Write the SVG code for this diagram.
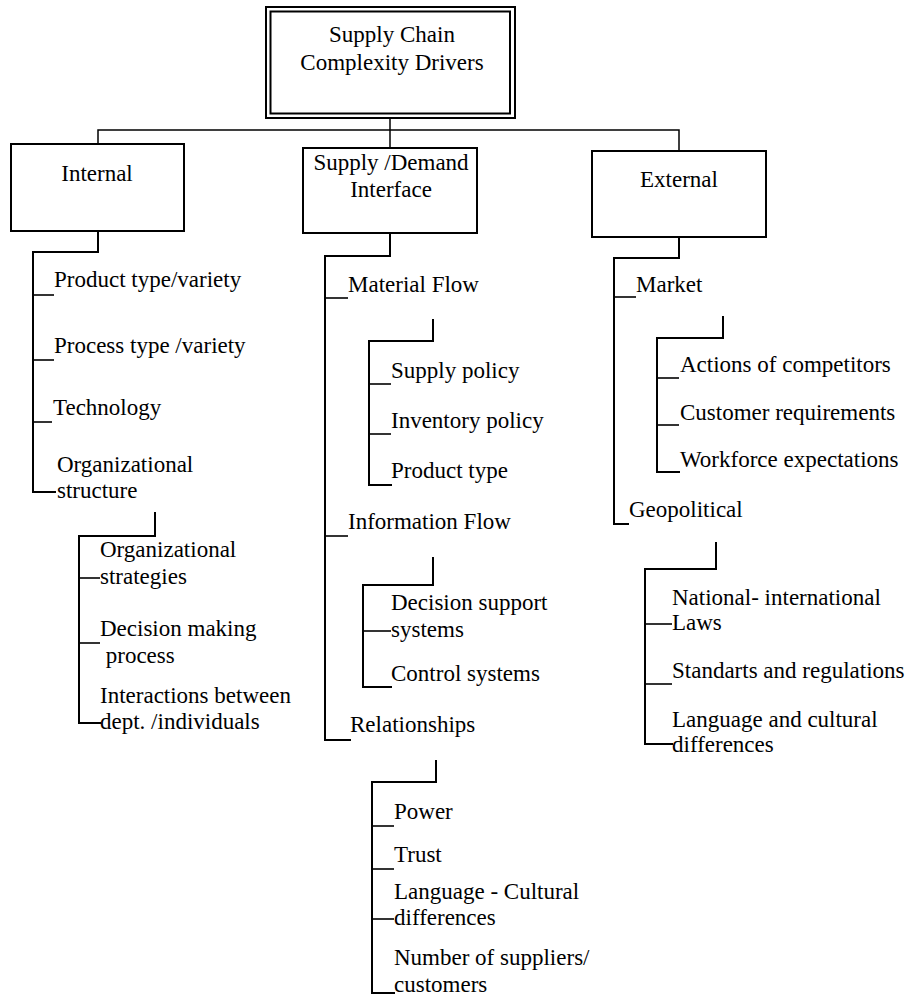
<svg xmlns="http://www.w3.org/2000/svg" width="909" height="996" viewBox="0 0 909 996">
  <style>
    .box { fill: #fff; stroke: #000; stroke-width: 2; }
    .ln { fill: none; stroke: #000; stroke-width: 2; stroke-linecap: square; }
    .tk { fill: none; stroke: #000; stroke-width: 1.6; }
    .hdr { fill: none; stroke: #000; stroke-width: 1.5; }
    text { font-family: "Liberation Serif", "Times New Roman", serif; font-size: 23px; fill: #000; }
    .c { text-anchor: middle; }
  </style>
  <rect width="909" height="996" fill="#fff"/>

  <!-- connectors -->
  <g id="connectors">
    <!-- top level fan-out -->
    <polyline class="hdr" points="98,144 98,130 679,130 679,151"/>
    <line class="hdr" x1="390" y1="118" x2="390" y2="148"/>

    <!-- Internal -->
    <polyline class="ln" points="98,231 98,252 33,252 33,492 55,492"/>
    <line class="tk" x1="33" y1="295" x2="54" y2="295"/>
    <line class="tk" x1="33" y1="360" x2="54" y2="360"/>
    <line class="tk" x1="33" y1="422" x2="52" y2="422"/>
    <polyline class="ln" points="155,513 155,536 79,536 79,723 100,723"/>
    <line class="tk" x1="79" y1="578" x2="100" y2="578"/>
    <line class="tk" x1="79" y1="643" x2="100" y2="643"/>

    <!-- Supply / Demand interface -->
    <polyline class="ln" points="390,233 390,256 325,256 325,740 350,740"/>
    <line class="tk" x1="325" y1="298" x2="348" y2="298"/>
    <line class="tk" x1="325" y1="536" x2="348" y2="536"/>
    <polyline class="ln" points="433,320 433,341 369,341 369,485 391,485"/>
    <line class="tk" x1="369" y1="384" x2="391" y2="384"/>
    <line class="tk" x1="369" y1="434" x2="391" y2="434"/>
    <polyline class="ln" points="433,558 433,585 363,585 363,687 391,687"/>
    <line class="tk" x1="363" y1="631" x2="391" y2="631"/>
    <polyline class="ln" points="436,761 436,782 372,782 372,993 394,993"/>
    <line class="tk" x1="372" y1="826" x2="394" y2="826"/>
    <line class="tk" x1="372" y1="869" x2="394" y2="869"/>
    <line class="tk" x1="372" y1="919" x2="394" y2="919"/>

    <!-- External -->
    <polyline class="ln" points="679,237 679,258 614,258 614,524 628,524"/>
    <line class="tk" x1="614" y1="297" x2="636" y2="297"/>
    <polyline class="ln" points="723,317 723,338 657,338 657,472 679,472"/>
    <line class="tk" x1="657" y1="378" x2="679" y2="378"/>
    <line class="tk" x1="657" y1="425" x2="679" y2="425"/>
    <polyline class="ln" points="716,543 716,569 645,569 645,744 672,744"/>
    <line class="tk" x1="645" y1="624" x2="672" y2="624"/>
    <line class="tk" x1="645" y1="684" x2="672" y2="684"/>
  </g>

  <!-- root -->
  <g id="root">
    <rect class="box" x="266" y="7" width="249" height="111"/>
    <rect class="box" x="270.5" y="11.5" width="239.5" height="102"/>
    <text class="c" x="392" y="42">Supply Chain</text>
    <text class="c" x="392" y="70">Complexity Drivers</text>
  </g>

  <!-- first level -->
  <g id="internal">
    <rect class="box" x="11" y="144" width="173" height="87"/>
    <text class="c" x="97" y="181">Internal</text>
  </g>
  <g id="interface">
    <rect class="box" x="303" y="148" width="174" height="85"/>
    <text class="c" x="391" y="170">Supply /Demand</text>
    <text class="c" x="391" y="197">Interface</text>
  </g>
  <g id="external">
    <rect class="box" x="592" y="151" width="174" height="86"/>
    <text class="c" x="679" y="187">External</text>
  </g>

  <!-- Internal items -->
  <g id="internal-items">
    <text x="54" y="287">Product type/variety</text>
    <text x="54" y="353">Process type /variety</text>
    <text x="53" y="415">Technology</text>
    <text x="57" y="472">Organizational</text>
    <text x="57" y="498">structure</text>
  </g>
  <g id="org-structure-items">
    <text x="100" y="557">Organizational</text>
    <text x="100" y="584">strategies</text>
    <text x="100" y="636">Decision making</text>
    <text x="100" y="663" xml:space="preserve"> process</text>
    <text x="100" y="703">Interactions between</text>
    <text x="100" y="729">dept. /individuals</text>
  </g>

  <!-- Interface items -->
  <g id="interface-items">
    <text x="348" y="292">Material Flow</text>
    <text x="348" y="529">Information Flow</text>
    <text x="350" y="732">Relationships</text>
  </g>
  <g id="material-flow-items">
    <text x="391" y="378">Supply policy</text>
    <text x="391" y="428">Inventory policy</text>
    <text x="391" y="478">Product type</text>
  </g>
  <g id="information-flow-items">
    <text x="391" y="610">Decision support</text>
    <text x="391" y="637">systems</text>
    <text x="391" y="681">Control systems</text>
  </g>
  <g id="relationship-items">
    <text x="394" y="819">Power</text>
    <text x="394" y="862">Trust</text>
    <text x="394" y="899">Language - Cultural</text>
    <text x="394" y="925">differences</text>
    <text x="394" y="965">Number of suppliers/</text>
    <text x="394" y="992">customers</text>
  </g>

  <!-- External items -->
  <g id="external-items">
    <text x="636" y="292">Market</text>
    <text x="629" y="517">Geopolitical</text>
  </g>
  <g id="market-items">
    <text x="680" y="372">Actions of competitors</text>
    <text x="680" y="420">Customer requirements</text>
    <text x="680" y="467">Workforce expectations</text>
  </g>
  <g id="geopolitical-items">
    <text x="672" y="605">National- international</text>
    <text x="672" y="630">Laws</text>
    <text x="672" y="678">Standarts and regulations</text>
    <text x="672" y="727">Language and cultural</text>
    <text x="672" y="752">differences</text>
  </g>
</svg>
